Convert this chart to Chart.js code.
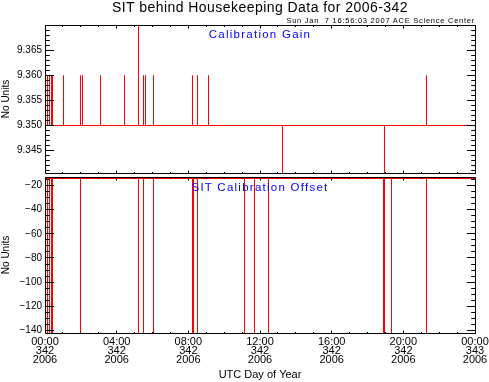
<!DOCTYPE html>
<html><head><meta charset="utf-8">
<script src="https://cdn.jsdelivr.net/npm/chart.js@4"></script>
<style>
html,body{margin:0;padding:0;background:#fff;}
#wrap{position:relative;width:489px;height:382px;overflow:hidden;font-family:"Liberation Sans",Arial,sans-serif;background:#fff;}
canvas{position:absolute;left:0;top:0;}
.t{position:absolute;white-space:pre;}
</style></head><body>
<div id="wrap">
<canvas id="c1" width="489" height="382"></canvas>
<canvas id="c2" width="489" height="382"></canvas>
<div class="t" style="left:0;width:520px;text-align:center;top:0;font-size:14px;line-height:14px;letter-spacing:0.45px;color:#000;">SIT behind Housekeeping Data for 2006-342</div>
<div class="t" style="right:14px;top:17px;font-size:7.5px;line-height:7.5px;letter-spacing:0.75px;color:#000;">Sun Jan  7 16:56:03 2007 ACE Science Center</div>
<div class="t" style="left:0;width:520px;text-align:center;top:29px;font-size:11.5px;line-height:11.5px;letter-spacing:1.25px;color:#0000ff;">Calibration Gain</div>
<div class="t" style="left:0;width:520px;text-align:center;top:182px;font-size:11.5px;line-height:11.5px;letter-spacing:1.25px;color:#0000ff;">SIT Calibration Offset</div>
</div>
<script>
// ---- data (hours of UTC day 2006-342) ----
const gainBaseline = 9.350;
const gainSpikeHours  = [0.140, 0.251, 0.363, 0.419, 1.033, 1.981, 2.093, 3.098, 4.437, 5.218, 5.498, 5.609, 6.056, 8.233, 8.512, 9.126, 13.256, 18.949, 21.293];
const gainSpikeValues = [9.360, 9.360, 9.360, 9.360, 9.360, 9.360, 9.360, 9.360, 9.360, 9.375, 9.360, 9.360, 9.360, 9.360, 9.360, 9.360, 9.340, 9.340, 9.360];

const offsetBaseline = -14.2;
const offsetSpikeHours  = [0.140, 0.251, 0.363, 0.419, 1.981, 5.218, 5.498, 6.056, 8.233, 8.289, 8.512, 11.135, 11.693, 12.474, 18.893, 18.949, 19.340, 21.293];
const offsetSpikeValues = [-150, -150, -150, -150, -150, -150, -150, -150, -150, -150, -150, -150, -150, -150, -150, -150, -150, -150];

const gainTicks   = [9.345, 9.350, 9.355, 9.360, 9.365];
const offsetTicks = [-140, -120, -100, -80, -60, -40, -20];
const xTickHours  = [0, 4, 8, 12, 16, 20, 24];
const xTickTimes  = ['00:00', '04:00', '08:00', '12:00', '16:00', '20:00', '00:00'];
const xTickDays   = ['342', '342', '342', '342', '342', '342', '343'];
const xTickYears  = ['2006', '2006', '2006', '2006', '2006', '2006', '2006'];

function buildSeries(base, hours, vals) {
  const pts = [{x: 0, y: base}];
  hours.forEach((h, i) => { pts.push({x: h, y: base}, {x: h, y: vals[i]}, {x: h, y: base}); });
  pts.push({x: 24, y: base});
  return pts;
}

const frameTicks = {
  id: 'frameTicks',
  afterDatasetsDraw(chart, args, o) {
    const {ctx, chartArea: a, scales} = chart;
    const xs = scales.x, ys = scales.y;
    const L = Math.round(a.left) + 0.5, R = Math.round(a.right) + 0.5;
    const T = Math.round(a.top) + 0.5, B = Math.round(a.bottom) + 0.5;
    ctx.save();
    ctx.strokeStyle = '#000';
    ctx.lineWidth = 1;
    ctx.beginPath();
    ctx.rect(L, T, R - L, B - T);
    const yi0 = Math.ceil(ys.min / o.yMinor - 1e-6), yi1 = Math.floor(ys.max / o.yMinor + 1e-6);
    for (let i = yi0; i <= yi1; i++) {
      const v = i * o.yMinor;
      const r = v / o.yMajor;
      const major = Math.abs(r - Math.round(r)) < 1e-6;
      const len = major ? o.yMajorLen : o.yMinorLen;
      const py = Math.floor(ys.getPixelForValue(v) + 1e-6) + 0.5;
      ctx.moveTo(L, py); ctx.lineTo(L + len, py);
      ctx.moveTo(R, py); ctx.lineTo(R - len, py);
    }
    for (let h = 0; h <= 24; h += o.xMinor) {
      const major = h % o.xMajor === 0;
      const len = major ? o.xMajorLen : o.xMinorLen;
      const px = Math.floor(xs.getPixelForValue(h) + 1e-6) + 0.5;
      ctx.moveTo(px, B); ctx.lineTo(px, B - len);
      ctx.moveTo(px, T); ctx.lineTo(px, T + len);
    }
    ctx.stroke();
    ctx.restore();
  }
};

const FONT = 'Liberation Sans';
function yAxis(min, max, tickVals, fmt) {
  return {
    type: 'linear', min: min, max: max,
    afterBuildTicks: s => { s.ticks = tickVals.map(v => ({value: v})); },
    afterFit: s => { s.width = 45; s.paddingTop = 0; s.paddingBottom = 0; },
    grid: {display: false, drawTicks: false}, border: {display: false},
    ticks: {padding: 3, color: '#000', font: {family: FONT, size: 10}, callback: fmt},
    title: {display: true, text: 'No Units', color: '#000', font: {family: FONT, size: 10}, padding: 0}
  };
}
const common = {responsive: false, animation: false, devicePixelRatio: 1, events: []};
const ds = data => ({data: data, borderColor: '#ff0000', borderWidth: 1, pointRadius: 0, tension: 0, fill: false});

new Chart(document.getElementById('c1'), {
  type: 'line',
  data: {datasets: [ds(buildSeries(gainBaseline, gainSpikeHours, gainSpikeValues))]},
  options: Object.assign({}, common, {
    layout: {padding: {top: 25, right: 14, bottom: 209, left: 0}},
    plugins: {legend: {display: false}, tooltip: {enabled: false},
      frameTicks: {yMinor: 0.001, yMajor: 0.005, yMajorLen: 8.6, yMinorLen: 4.3, xMinor: 1, xMajor: 4, xMajorLen: 3, xMinorLen: 1.5}},
    scales: {
      x: {type: 'linear', min: 0, max: 24, display: false},
      y: yAxis(9.3405, 9.3701, gainTicks, v => Number(v).toFixed(3))
    }
  }),
  plugins: [frameTicks]
});

new Chart(document.getElementById('c2'), {
  type: 'line',
  data: {datasets: [ds(buildSeries(offsetBaseline, offsetSpikeHours, offsetSpikeValues))]},
  options: Object.assign({}, common, {
    layout: {padding: {top: 177, right: 14, bottom: 0, left: 0}},
    plugins: {legend: {display: false}, tooltip: {enabled: false},
      frameTicks: {yMinor: 5, yMajor: 20, yMajorLen: 8.6, yMinorLen: 4.3, xMinor: 1, xMajor: 4, xMajorLen: 3, xMinorLen: 1.5}},
    scales: {
      x: {
        type: 'linear', min: 0, max: 24, position: 'bottom',
        afterBuildTicks: s => { s.ticks = xTickHours.map(v => ({value: v})); },
        afterFit: s => { s.height = 49; s.paddingLeft = 0; s.paddingRight = 0; },
        grid: {display: false, drawTicks: false}, border: {display: false},
        ticks: {autoSkip: false, maxRotation: 0, minRotation: 0, padding: 5, color: '#000',
          font: {family: FONT, size: 11, lineHeight: 0.8},
          callback: (v, i) => [xTickTimes[i], xTickDays[i], xTickYears[i]]},
        title: {display: true, text: 'UTC Day of Year', color: '#000', font: {family: FONT, size: 11}, padding: 0}
      },
      y: yAxis(-142.07, -12.97, offsetTicks, v => (v < 0 ? '\u2212' + Math.abs(v) : String(v)))
    }
  }),
  plugins: [frameTicks]
});
</script>
</body></html>
